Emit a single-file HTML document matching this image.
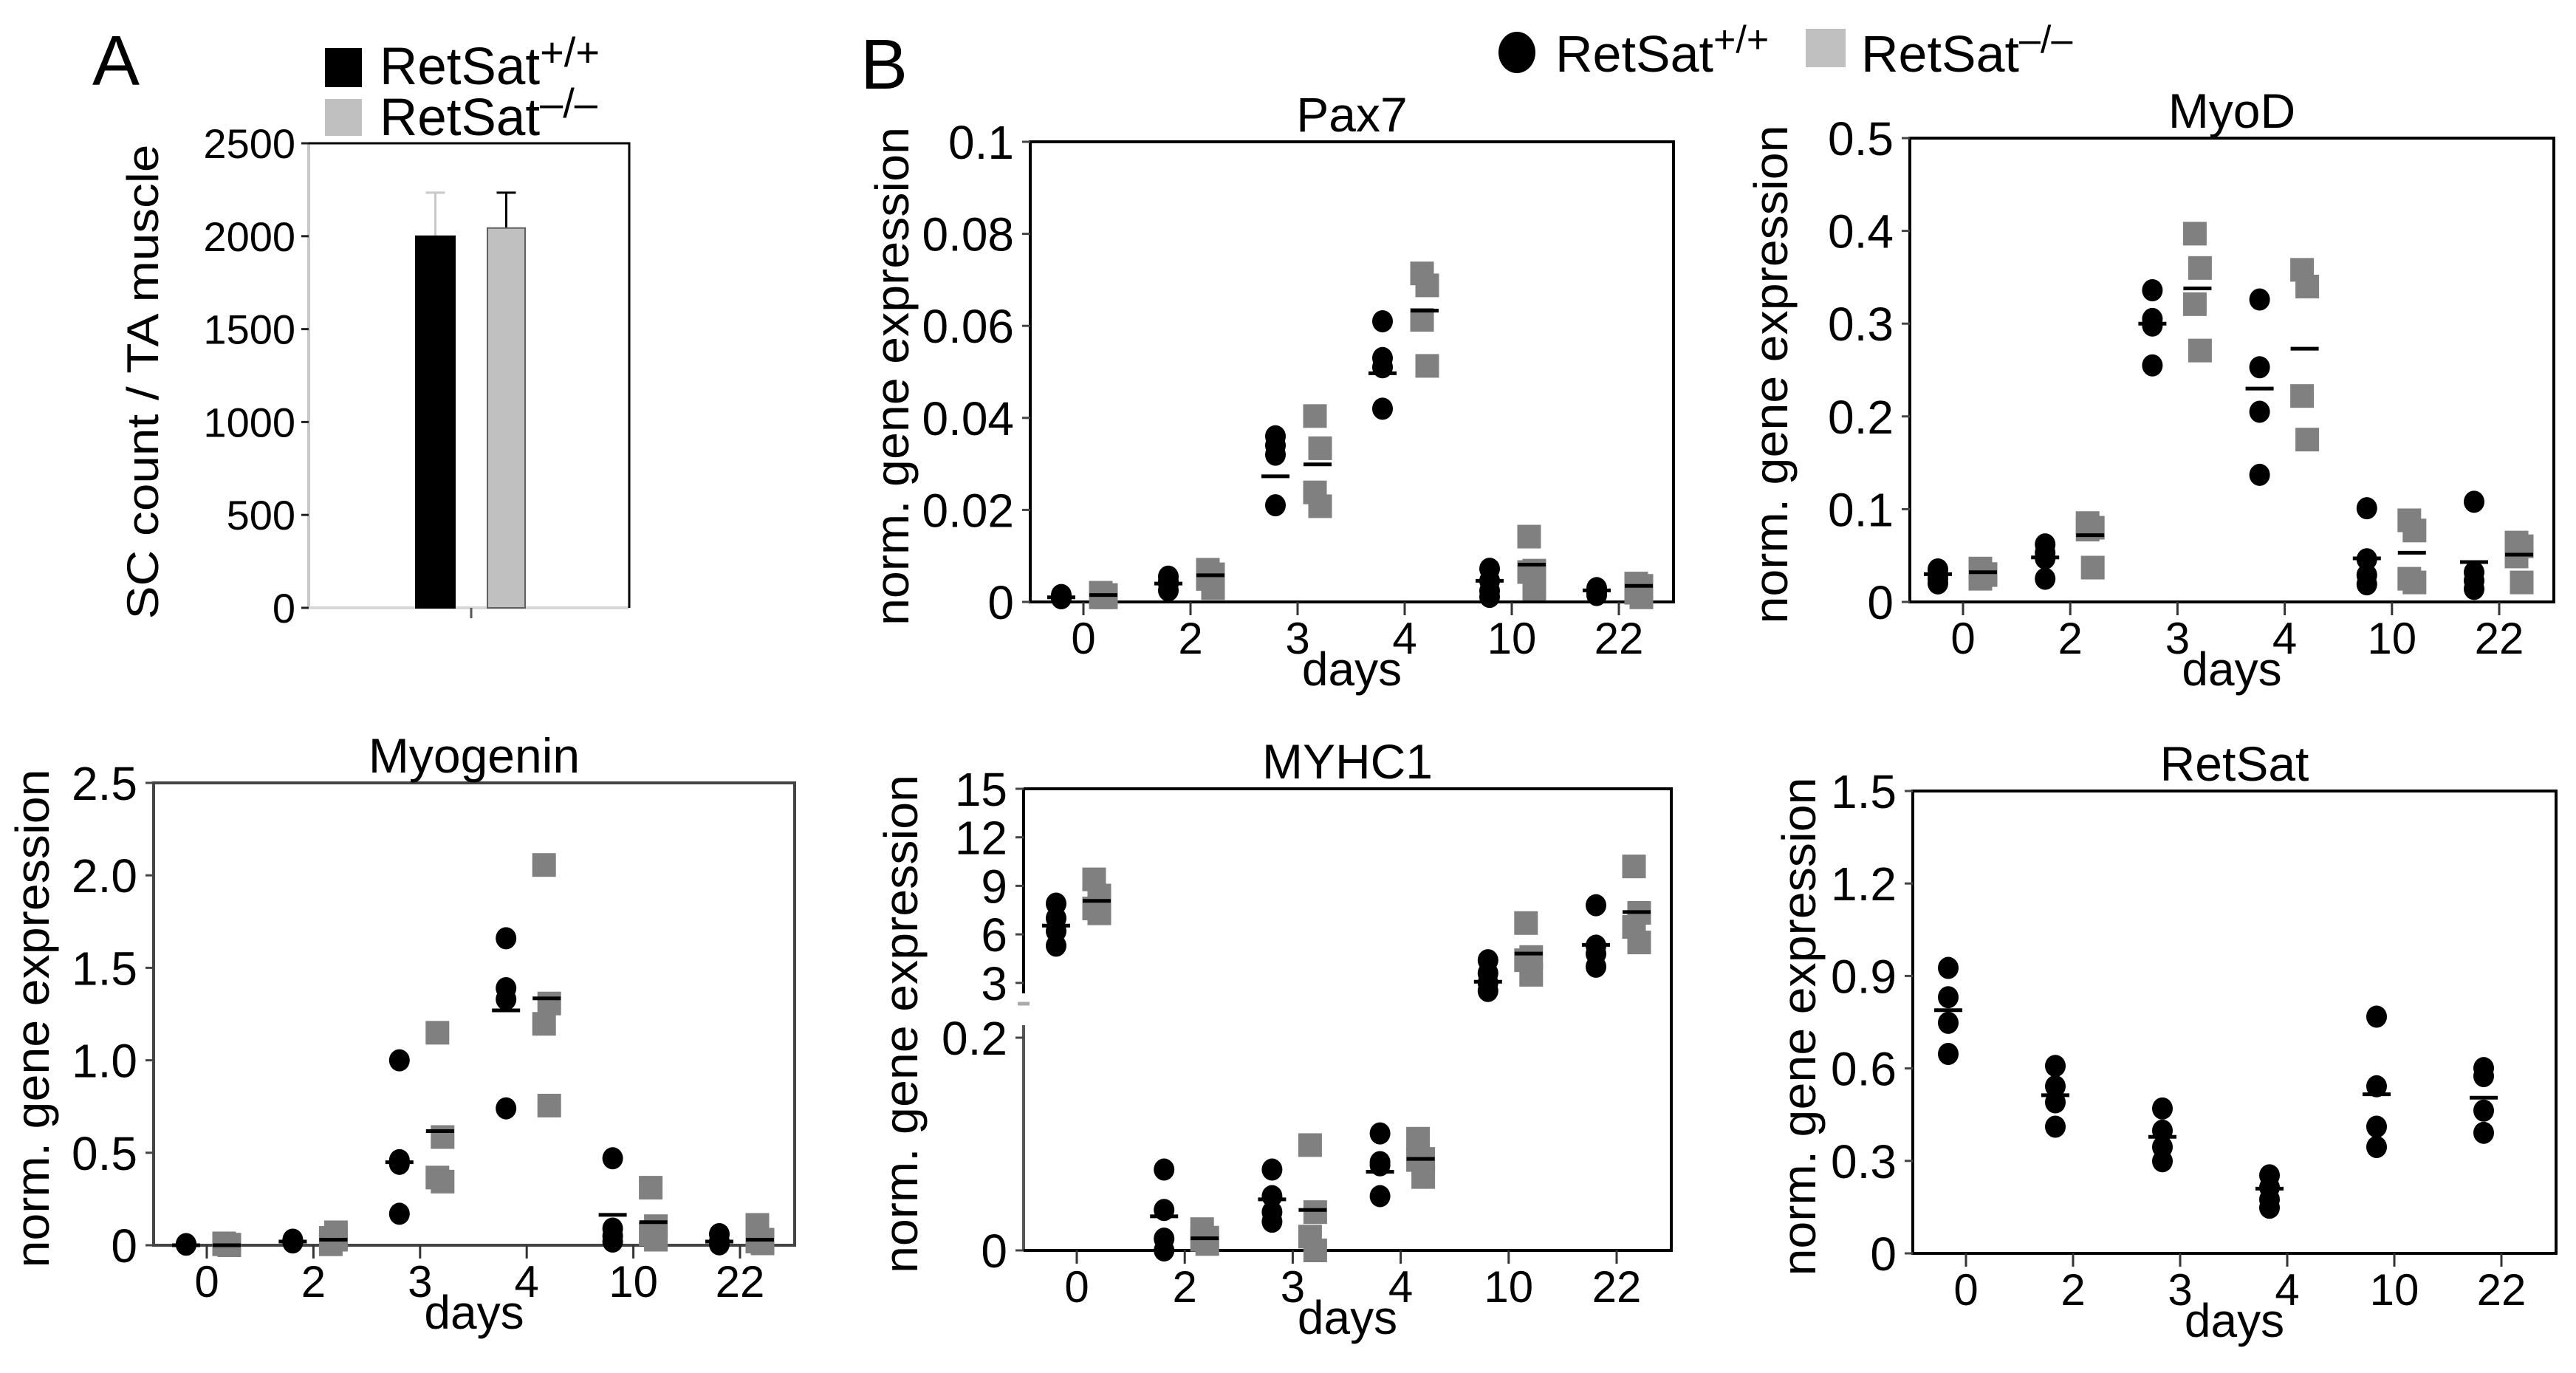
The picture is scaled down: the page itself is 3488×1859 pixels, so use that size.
<!DOCTYPE html>
<html><head><meta charset="utf-8"><style>
html,body{margin:0;padding:0;background:#fff;}
svg{display:block;font-family:"Liberation Sans",Arial,sans-serif;}
</style></head><body>
<svg id="fig" xmlns="http://www.w3.org/2000/svg" width="3488" height="1859" viewBox="0 0 3488 1859">
<rect x="0" y="0" width="3488" height="1859" fill="#fff"/>
<g>
  <text x="125" y="115" font-size="96">A</text>
  <g>
    <rect x="440" y="65" width="50" height="53" fill="#000"/>
    <text x="514" y="114" font-size="71">RetSat<tspan font-size="56" dy="-24">+/+</tspan></text>
    <rect x="440" y="134" width="50" height="50" fill="#c0c0c0"/>
    <text x="514" y="183" font-size="71">RetSat<tspan font-size="56" dy="-24">–/–</tspan></text>
  </g>
</g>
<g>
  <text x="1165" y="120" font-size="96">B</text>
  <ellipse cx="2054" cy="71" rx="25" ry="28" fill="#000"/>
  <text x="2106" y="97" font-size="70">RetSat<tspan font-size="52" dy="-26">+/+</tspan></text>
  <rect x="2445" y="39" width="54" height="52" fill="#c0c0c0"/>
  <text x="2520" y="97" font-size="70">RetSat<tspan font-size="52" dy="-26">–/–</tspan></text>
</g>
</svg>
<script>
// ---------- data ----------
const days = ['0','2','3','4','10','22'];

const barGroups = ['RetSat+/+','RetSat-/-'];
const barValues = [2000, 2044];
const barErrors = [234, 190];
const barTicks = [0,500,1000,1500,2000,2500];
const barTickLabels = ['0','500','1000','1500','2000','2500'];

const pax7Wt = [[0.001,0.0012,0.0008,0.0015],[0.0055,0.0045,0.004,0.0025],[0.036,0.034,0.032,0.021],[0.061,0.053,0.051,0.042],[0.0072,0.0046,0.0024,0.0011],[0.003,0.0025,0.002,0.0015]];
const pax7Ko = [[0.001,0.0015,0.002,0.001],[0.007,0.006,0.005,0.003],[0.0404,0.0334,0.0238,0.0208],[0.0714,0.0688,0.0613,0.0513],[0.0142,0.0068,0.0065,0.0029],[0.004,0.0035,0.002,0.001]];
const pax7WtMean = [0.001,0.004,0.0273,0.0497,0.0046,0.0025];
const pax7KoMean = [0.0015,0.0058,0.0299,0.0633,0.0081,0.0035];
const pax7Ticks = [0,0.02,0.04,0.06,0.08,0.1];
const pax7TickLabels = ['0','0.02','0.04','0.06','0.08','0.1'];

const myodWt = [[0.035,0.03,0.025,0.02],[0.062,0.053,0.047,0.025],[0.336,0.305,0.298,0.255],[0.326,0.253,0.205,0.137],[0.101,0.046,0.029,0.019],[0.108,0.032,0.023,0.014]];
const myodKo = [[0.036,0.029,0.025,0.03],[0.085,0.08,0.078,0.037],[0.397,0.36,0.321,0.271],[0.358,0.34,0.222,0.175],[0.088,0.077,0.025,0.021],[0.064,0.06,0.049,0.021]];
const myodWtMean = [0.03,0.048,0.300,0.230,0.047,0.043];
const myodKoMean = [0.032,0.072,0.338,0.273,0.053,0.051];
const myodTicks = [0,0.1,0.2,0.3,0.4,0.5];
const myodTickLabels = ['0','0.1','0.2','0.3','0.4','0.5'];

const myogWt = [[0.005,0.003,0.006,0.004],[0.02,0.025,0.015,0.03],[1.0,0.46,0.44,0.17],[1.66,1.39,1.33,0.74],[0.47,0.09,0.05,0.02],[0.06,0.02,0.01,0.005]];
const myogKo = [[0.005,0.0,0.01,0.003],[0.04,0.07,0.005,0.03],[1.149,0.585,0.366,0.344],[2.056,1.307,1.197,0.755],[0.311,0.103,0.06,0.03],[0.11,0.03,0.02,0.01]];
const myogWtMean = [0.0,0.02,0.449,1.27,0.164,0.02];
const myogKoMean = [0.0,0.03,0.617,1.335,0.125,0.03];
const myogTicks = [0,0.5,1,1.5,2,2.5];
const myogTickLabels = ['0','0.5','1.0','1.5','2.0','2.5'];

const myhcWt = [[7.9,7.0,6.2,5.3],[0.076,0.038,0.011,0.0],[0.076,0.051,0.036,0.027],[0.11,0.083,0.08,0.051],[4.4,3.6,3.0,2.5],[7.8,5.3,4.8,4.0]];
const myhcKo = [[9.4,8.4,7.6,7.3],[0.02,0.012,0.01,0.006],[0.099,0.036,0.013,0.0],[0.105,0.086,0.085,0.069],[6.7,4.6,4.4,3.5],[10.2,7.33,6.46,5.5]];
const myhcWtMean = [6.54,0.032,0.048,0.074,3.07,5.35];
const myhcKoMean = [8.07,0.0114,0.038,0.086,4.81,7.38];
const myhcUpperTicks = [3,6,9,12,15];
const myhcUpperLabels = ['3','6','9','12','15'];
const myhcLowerTicks = [0,0.2];
const myhcLowerLabels = ['0','0.2'];

const retsatWt = [[0.926,0.831,0.748,0.647],[0.608,0.542,0.49,0.411],[0.47,0.398,0.345,0.299],[0.253,0.214,0.175,0.148],[0.768,0.542,0.411,0.345],[0.601,0.575,0.463,0.391]];
const retsatWtMean = [0.789,0.513,0.378,0.21,0.516,0.505];
const retsatTicks = [0,0.3,0.6,0.9,1.2,1.5];
const retsatTickLabels = ['0','0.3','0.6','0.9','1.2','1.5'];

// ---------- drawing ----------
const NS = 'http://www.w3.org/2000/svg';
const svg = document.getElementById('fig');
function mk(parent, tag, attrs){
  const e = document.createElementNS(NS, tag);
  for (const k in attrs) e.setAttribute(k, attrs[k]);
  parent.appendChild(e);
  return e;
}

(function(){
  const L=418,R=852,T=194,B=823;
  const g = mk(svg,'g',{});
  
  
  const y = v => B - v/2500*(B-T);
  const ax1 = mk(g,'line',{x1:L,y1:T,x2:L,y2:B,stroke:'#c8c8c8','stroke-width':4});
  
  
  const ax2 = mk(g,'line',{x1:L,y1:B,x2:R,y2:B,stroke:'#d8d8d8','stroke-width':4});
  
  
  const fr = mk(g,'polyline',{points:`${L},${T} ${R},${T} ${R},${B}`,fill:'none',stroke:'#000','stroke-width':3});
  
  
  const xt = mk(g,'line',{x1:638,y1:B,x2:638,y2:B+14,stroke:'#555','stroke-width':3});
  
  
  barTicks.forEach((t,i)=>{
    const tk = mk(g,'line',{x1:L-10,y1:y(t),x2:L,y2:y(t),stroke:'#222','stroke-width':3});
    
    
    const tl = mk(g,'text',{x:L-18,y:y(t)+20,'font-size':56,'text-anchor':'end'});
    tl.textContent = barTickLabels[i];
    
    
  });
  const yl = mk(g,'text',{x:0,y:0,'font-size':60,'text-anchor':'middle',textLength:643,lengthAdjust:'spacingAndGlyphs',transform:`translate(214,517) rotate(-90)`});
  yl.textContent = 'SC count / TA muscle';
  
  
  const bx=[563,660], bw=[53,51], fills=['#000','#c0c0c0'], strokes=['#000','#606060'], errc=['#c8c8c8','#000'];
  barValues.forEach((v,i)=>{
    const cx = bx[i]+bw[i]/2;
    const el = mk(g,'line',{x1:cx,y1:y(v),x2:cx,y2:y(v+barErrors[i]),stroke:errc[i],'stroke-width':3});
    
    
    const cap = mk(g,'line',{x1:cx-13,y1:y(v+barErrors[i]),x2:cx+13,y2:y(v+barErrors[i]),stroke:errc[i],'stroke-width':3});
    
    
    const r = mk(g,'rect',{x:bx[i],y:y(v),width:bw[i],height:B-y(v),fill:fills[i],stroke:strokes[i],'stroke-width':2});
    
    
  });
})();

const GRAYJ = [-7,7,-7,7];
function scatterPanel(cfg){
  const {L,R,T,B,ylabX,title,name} = cfg;
  const g = mk(svg,'g',{});
  
  
  const tick0 = L+72, sp = (R-L-146)/5;
  const xPos = i => tick0 + i*sp;
  const y = cfg.yScale;
  const axc = cfg.axisColor || '#000';
  if (cfg.broken){
    const a1 = mk(g,'line',{x1:L,y1:T,x2:L,y2:1345,stroke:axc,'stroke-width':4});
    
    
    const a2 = mk(g,'line',{x1:L,y1:1388,x2:L,y2:B,stroke:'#555','stroke-width':4});
    
    
    const bk = mk(g,'line',{x1:L-8,y1:1359,x2:L+8,y2:1359,stroke:'#aaa','stroke-width':5});
    
    
    const fr = mk(g,'polyline',{points:`${L},${T} ${R},${T} ${R},${B} ${L},${B}`,fill:'none',stroke:axc,'stroke-width':4});
    
    
  } else {
    const fr = mk(g,'rect',{x:L,y:T,width:R-L,height:B-T,fill:'none',stroke:axc,'stroke-width':4});
    
    
  }
  cfg.ticks.forEach((t,i)=>{
    const tk = mk(g,'line',{x1:L-11,y1:y(t),x2:L,y2:y(t),stroke:'#444','stroke-width':3});
    
    
    const tl = mk(g,'text',{x:L-22,y:y(t)+23,'font-size':64,'text-anchor':'end'});
    tl.textContent = cfg.tickLabels[i];
    
    
  });
  days.forEach((d,i)=>{
    const tk = mk(g,'line',{x1:xPos(i),y1:B,x2:xPos(i),y2:B+18,stroke:'#333','stroke-width':3});
    
    
    const tl = mk(g,'text',{x:xPos(i),y:B+70,'font-size':60,'text-anchor':'middle'});
    tl.textContent = d;
    
    
  });
  const xt = mk(g,'text',{x:(L+R)/2,y:B+113,'font-size':64,'text-anchor':'middle'});
  xt.textContent = 'days';
  
  
  const ti = mk(g,'text',{x:(L+R)/2,y:T-14,'font-size':66,'text-anchor':'middle'});
  ti.textContent = title;
  
  
  const yl = mk(g,'text',{x:0,y:0,'font-size':64,'text-anchor':'middle',textLength:675,lengthAdjust:'spacingAndGlyphs',transform:`translate(${ylabX+22},${(T+B)/2+6}) rotate(-90)`});
  yl.textContent = 'norm. gene expression';
  
  
  const bo = cfg.wtOffset, go = 27;
  if (cfg.ko){
    cfg.ko.forEach((arr,i)=>{
      arr.forEach((v,j)=>{
        const s = mk(g,'rect',{x:xPos(i)+go+GRAYJ[j]*0.5-16,y:y(v)-16,width:32,height:32,fill:'#808080'});
        
        
      });
    });
  }
  cfg.wt.forEach((arr,i)=>{
    arr.forEach(v=>{
      const c = mk(g,'ellipse',{cx:xPos(i)+bo,cy:y(v),rx:14,ry:15,fill:'#000'});
      
      
    });
  });
  cfg.wtMean.forEach((v,i)=>{
    const m = mk(g,'line',{x1:xPos(i)+bo-19,y1:y(v),x2:xPos(i)+bo+19,y2:y(v),stroke:'#000','stroke-width':5});
    
    
  });
  if (cfg.koMean){
    cfg.koMean.forEach((v,i)=>{
      const m = mk(g,'line',{x1:xPos(i)+go-19,y1:y(v),x2:xPos(i)+go+19,y2:y(v),stroke:'#000','stroke-width':5});
      
      
    });
  }
}
function lin(T,B,max){ return v => B - v/max*(B-T); }

scatterPanel({name:'pax7-chart',title:'Pax7',L:1395,R:2266,T:192,B:815,ylabX:1208,wtOffset:-30,
  yScale:lin(192,815,0.1),ticks:pax7Ticks,tickLabels:pax7TickLabels,wt:pax7Wt,ko:pax7Ko,wtMean:pax7WtMean,koMean:pax7KoMean});
scatterPanel({name:'myod-chart',title:'MyoD',L:2586,R:3458,T:187,B:815,ylabX:2398,wtOffset:-34,
  yScale:lin(187,815,0.5),ticks:myodTicks,tickLabels:myodTickLabels,wt:myodWt,ko:myodKo,wtMean:myodWtMean,koMean:myodKoMean});
scatterPanel({name:'myogenin-chart',title:'Myogenin',L:208,R:1076,T:1060,B:1686,ylabX:44,wtOffset:-28,axisColor:'#444',
  yScale:lin(1060,1686,2.5),ticks:myogTicks,tickLabels:myogTickLabels,wt:myogWt,ko:myogKo,wtMean:myogWtMean,koMean:myogKoMean});
(function(){
  const T=1068,B=1693;
  const up = v => T + (15-v)*21.9;
  const lo = v => B - v*1440;
  const yS = v => v > 1 ? up(v) : lo(v);
  scatterPanel({name:'myhc1-chart',title:'MYHC1',L:1386,R:2263,T:T,B:B,ylabX:1220,wtOffset:-28,broken:true,
    yScale:yS,ticks:myhcUpperTicks.concat(myhcLowerTicks),tickLabels:myhcUpperLabels.concat(myhcLowerLabels),
    wt:myhcWt,ko:myhcKo,wtMean:myhcWtMean,koMean:myhcKoMean});
})();
scatterPanel({name:'retsat-chart',title:'RetSat',L:2590,R:3461,T:1071,B:1697,ylabX:2436,wtOffset:-24,
  yScale:lin(1071,1697,1.5),ticks:retsatTicks,tickLabels:retsatTickLabels,wt:retsatWt,wtMean:retsatWtMean});
</script>
</body></html>
